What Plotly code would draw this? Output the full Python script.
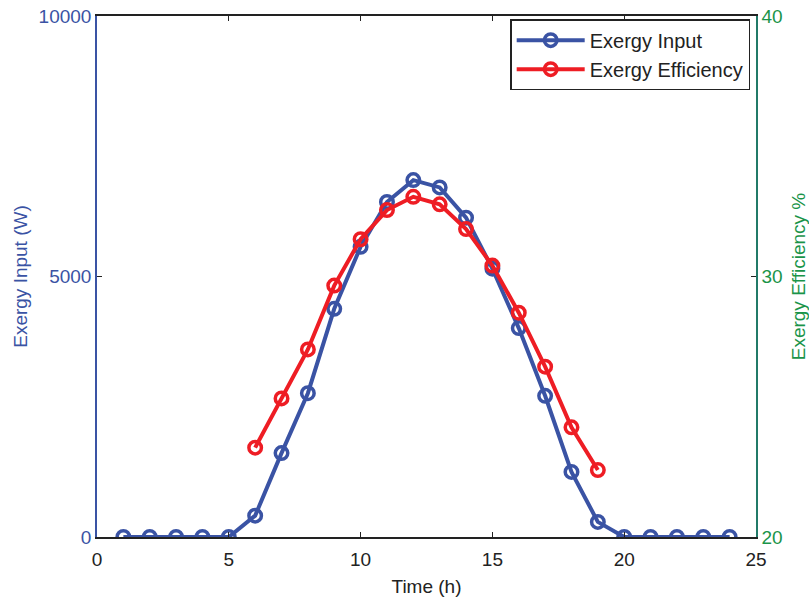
import plotly.graph_objects as go

hours = list(range(1, 25))
exergy_input = [0, 0, 0, 0, 0, 410, 1610, 2760, 4380, 5570, 6430, 6850, 6710, 6130, 5150, 4010, 2710, 1250, 290, 0, 0, 0, 0, 0]
eff_hours = list(range(6, 20))
exergy_eff = [23.43, 25.32, 27.2, 29.65, 31.43, 32.55, 33.06, 32.77, 31.82, 30.42, 28.61, 26.54, 24.21, 22.57]
x_ticks = [0, 5, 10, 15, 20, 25]
y_ticks = [0, 5000, 10000]
y2_ticks = [20, 30, 40]

BLUE = "#3A53A4"
RED = "#EE1D24"
GREEN = "#1A9449"
TEAL = "#217A68"
DARK = "#222222"
FONT = "Liberation Sans"

fig = go.Figure()
fig.add_trace(go.Scatter(
    x=hours, y=exergy_input, name="Exergy Input", mode="lines+markers",
    line=dict(color=BLUE, width=4),
    marker=dict(symbol="circle-open", size=12.5, color=BLUE, line=dict(width=3.5, color=BLUE)),
    yaxis="y"))
fig.add_trace(go.Scatter(
    x=eff_hours, y=exergy_eff, name="Exergy Efficiency", mode="lines+markers",
    line=dict(color=RED, width=4),
    marker=dict(symbol="circle-open", size=12.5, color=RED, line=dict(width=3.5, color=RED)),
    yaxis="y2"))

fig.update_layout(
    template="none",
    width=809, height=600,
    margin=dict(l=97, r=53, t=16, b=63, autoexpand=False),
    plot_bgcolor="white", paper_bgcolor="white",
    font=dict(family=FONT, size=19, color=DARK),
    showlegend=True,
    legend=dict(x=0.627, y=0.994, xanchor="left", yanchor="top",
                bordercolor=DARK, borderwidth=1.5, bgcolor="white",
                font=dict(family=FONT, size=20, color=DARK),
                itemwidth=68, tracegroupgap=0),
    xaxis=dict(range=[0, 25], tickvals=x_ticks, automargin=False,
               showline=True, linecolor=DARK, linewidth=1.5, mirror="ticks",
               ticks="inside", ticklen=5, tickcolor=DARK, showgrid=False, zeroline=False,
               ticklabelstandoff=4, ticklabeloverflow="allow",
               title=dict(text="Time (h)", font=dict(size=19, color=DARK), standoff=11),
               tickfont=dict(size=19, color=DARK)),
    yaxis=dict(range=[0, 10000], tickvals=y_ticks, tickformat="d", automargin=False,
               showline=True, linecolor=BLUE, linewidth=1.5,
               ticks="inside", ticklen=5, tickcolor=DARK, showgrid=False, zeroline=False,
               ticklabeloverflow="allow",
               tickfont=dict(size=19, color=BLUE),
               title=dict(text="Exergy Input (W)", font=dict(size=19, color=BLUE), standoff=6)),
    yaxis2=dict(range=[20, 40], tickvals=y2_ticks, overlaying="y", side="right", automargin=False,
                showline=True, linecolor=TEAL, linewidth=1.5,
                ticks="inside", ticklen=5, tickcolor=DARK, showgrid=False, zeroline=False,
                ticklabeloverflow="allow",
                tickfont=dict(size=19, color=GREEN),
                title=dict(text="Exergy Efficiency %", font=dict(size=19, color=GREEN), standoff=18)),
)

# remove the page's default 8px body margin so the 809x600 figure fills the window
fig.write_html("out.html",
               config={"displayModeBar": False},
               post_script="document.body.style.margin='0';document.body.style.overflow='hidden';")
